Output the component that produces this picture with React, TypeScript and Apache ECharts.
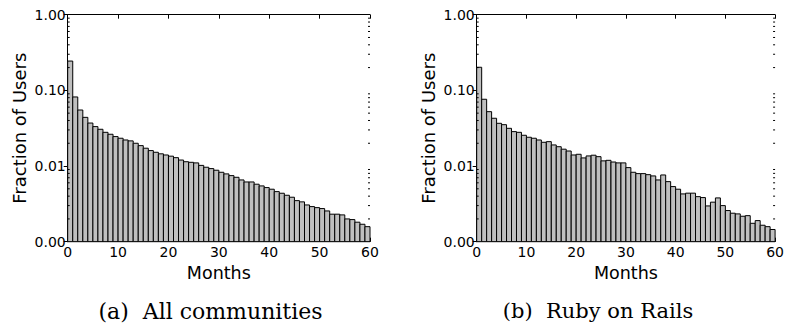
import React, { useEffect, useRef } from "react";
import * as echarts from "echarts";

const months: number[] = [
  0, 1, 2, 3, 4, 5, 6, 7, 8, 9, 10, 11, 12, 13, 14, 15, 16, 17, 18, 19,
  20, 21, 22, 23, 24, 25, 26, 27, 28, 29, 30, 31, 32, 33, 34, 35, 36, 37, 38, 39,
  40, 41, 42, 43, 44, 45, 46, 47, 48, 49, 50, 51, 52, 53, 54, 55, 56, 57, 58, 59,
];

const allCommunities: number[] = [
  0.244, 0.0818, 0.055, 0.044, 0.037, 0.0332, 0.0306, 0.0279, 0.0263, 0.0245,
  0.0233, 0.0221, 0.0215, 0.02, 0.0186, 0.0172, 0.016, 0.0152, 0.0145, 0.014,
  0.0135, 0.0129, 0.012, 0.0114, 0.0112, 0.011, 0.0102, 0.00964, 0.00925, 0.0088,
  0.00827, 0.00787, 0.00747, 0.0071, 0.00655, 0.00616, 0.00616, 0.00575, 0.00546, 0.00519,
  0.00494, 0.00459, 0.00437, 0.00411, 0.00387, 0.00349, 0.00336, 0.00306, 0.00291, 0.00282,
  0.00274, 0.00255, 0.00231, 0.00231, 0.00226, 0.002, 0.00196, 0.00181, 0.0017, 0.00158,
];

const rubyOnRails: number[] = [
  0.202, 0.0763, 0.0523, 0.0428, 0.0367, 0.0352, 0.0315, 0.0285, 0.0279, 0.0255,
  0.024, 0.0233, 0.0221, 0.0206, 0.021, 0.019, 0.018, 0.0167, 0.0158, 0.014,
  0.0143, 0.0128, 0.0136, 0.0139, 0.0133, 0.0117, 0.0119, 0.0113, 0.011, 0.011,
  0.00953, 0.00827, 0.00794, 0.00794, 0.00769, 0.0074, 0.00655, 0.00762, 0.00622, 0.00535,
  0.00494, 0.00428, 0.00438, 0.00438, 0.00394, 0.00383, 0.00297, 0.00333, 0.00379, 0.003,
  0.00258, 0.00238, 0.00233, 0.00217, 0.00221, 0.00175, 0.0019, 0.00165, 0.00158, 0.00145,
];

const xMin = 0;
const xMax = 60;
const xInterval = 10;
const yMin = 0.001;
const yMax = 1;
const decades: number[] = [0.001, 0.01, 0.1];
const minorMultipliers: number[] = [2, 3, 4, 5, 6, 7, 8, 9];
const captions: string[] = ["(a)  All communities", "(b)  Ruby on Rails"];
const xAxisTitle = "Months";
const yAxisTitle = "Fraction of Users";

const FONT = "DejaVu Sans";

export default function App() {
  const ref = useRef<HTMLDivElement>(null);

  useEffect(() => {
    if (!ref.current) return;
    const chart = echarts.init(ref.current, null, { renderer: "svg" });

    const grids = [
      { left: 67.7, top: 14.7, width: 302.3, height: 227 },
      { left: 476.7, top: 14.7, width: 302.3, height: 227 },
    ];
    const seriesData = [allCommunities, rubyOnRails];

    const minorValues: number[] = [];
    decades.forEach((d) => minorMultipliers.forEach((m) => minorValues.push(d * m)));

    const xAxes: any[] = [];
    const yAxes: any[] = [];
    const series: any[] = [];

    grids.forEach((g, gi) => {
      xAxes.push({
        type: "value",
        gridIndex: gi,
        position: "bottom",
        min: xMin,
        max: xMax,
        interval: xInterval,
        name: xAxisTitle,
        nameLocation: "middle",
        nameGap: 19,
        nameTextStyle: { fontFamily: FONT, fontSize: 17.5, color: "#000" },
        axisLine: { show: true, lineStyle: { color: "#000", width: 1 } },
        axisTick: { show: true, inside: true, length: 4, lineStyle: { color: "#000" } },
        axisLabel: { show: true, fontFamily: FONT, fontSize: 14, color: "#000", margin: 3 },
        splitLine: { show: false },
      });
      xAxes.push({
        type: "value",
        gridIndex: gi,
        position: "top",
        min: xMin,
        max: xMax,
        interval: xInterval,
        axisLine: { show: true, lineStyle: { color: "#000", width: 1 } },
        axisTick: { show: true, inside: true, length: 4, lineStyle: { color: "#000" } },
        axisLabel: { show: false },
        splitLine: { show: false },
      });
      yAxes.push({
        type: "log",
        logBase: 10,
        gridIndex: gi,
        position: "left",
        min: yMin,
        max: yMax,
        name: yAxisTitle,
        nameLocation: "middle",
        nameGap: 39,
        nameRotate: 90,
        nameTextStyle: { fontFamily: FONT, fontSize: 18, color: "#000" },
        axisLine: { show: true, lineStyle: { color: "#000", width: 1 } },
        axisTick: { show: true, inside: true, length: 4, lineStyle: { color: "#000" } },
        axisLabel: {
          show: true,
          fontFamily: FONT,
          fontSize: 14,
          color: "#000",
          margin: 2,
          formatter: (v: number) => v.toFixed(2),
        },
        splitLine: { show: false },
      });
      yAxes.push({
        type: "log",
        logBase: 10,
        gridIndex: gi,
        position: "right",
        min: yMin,
        max: yMax,
        axisLine: { show: true, lineStyle: { color: "#000", width: 1 } },
        axisTick: { show: true, inside: true, length: 4, lineStyle: { color: "#000" } },
        axisLabel: { show: false },
        splitLine: { show: false },
      });

      series.push({
        type: "custom",
        xAxisIndex: gi * 2,
        yAxisIndex: gi * 2,
        clip: false,
        data: seriesData[gi].map((v, i) => [months[i], v]),
        encode: { x: 0, y: 1 },
        renderItem: (params: any, api: any) => {
          const m = api.value(0);
          const v = api.value(1);
          const p1 = api.coord([m, v]);
          const p0 = api.coord([m + 1, yMin]);
          return {
            type: "rect",
            shape: { x: p1[0], y: p1[1], width: p0[0] - p1[0], height: p0[1] - p1[1] },
            style: { fill: "#bfbfbf", stroke: "#000", lineWidth: 1 },
          };
        },
        z: 1,
      });

      series.push({
        type: "custom",
        xAxisIndex: gi * 2,
        yAxisIndex: gi * 2,
        clip: false,
        silent: true,
        data: minorValues.map((v) => [xMin, v]),
        encode: { x: 0, y: 1 },
        renderItem: (params: any, api: any) => {
          const v = api.value(1);
          const pl = api.coord([xMin, v]);
          const pr = api.coord([xMax, v]);
          return {
            type: "group",
            children: [
              { type: "line", shape: { x1: pl[0], y1: pl[1], x2: pl[0] + 2, y2: pl[1] }, style: { stroke: "#000", lineWidth: 1 } },
              { type: "line", shape: { x1: pr[0] - 2, y1: pr[1], x2: pr[0], y2: pr[1] }, style: { stroke: "#000", lineWidth: 1 } },
            ],
          };
        },
        z: 3,
      });
    });

    chart.setOption({
      animation: false,
      backgroundColor: "#fff",
      grid: grids.map((g) => ({ ...g, containLabel: false })),
      xAxis: xAxes,
      yAxis: yAxes,
      series,
      graphic: [
        {
          type: "text",
          x: 210.5,
          y: 311,
          style: {
            text: captions[0],
            font: "22px 'DejaVu Serif'",
            fill: "#000",
            align: "center",
            verticalAlign: "middle",
          },
        },
        {
          type: "text",
          x: 598,
          y: 311,
          style: {
            text: captions[1],
            font: "21px 'DejaVu Serif'",
            fill: "#000",
            align: "center",
            verticalAlign: "middle",
          },
        },
      ],
    });

    return () => chart.dispose();
  }, []);

  return (
    <div
      ref={ref}
      style={{ position: "fixed", left: 0, top: 0, width: 787, height: 329, background: "#fff" }}
    />
  );
}
